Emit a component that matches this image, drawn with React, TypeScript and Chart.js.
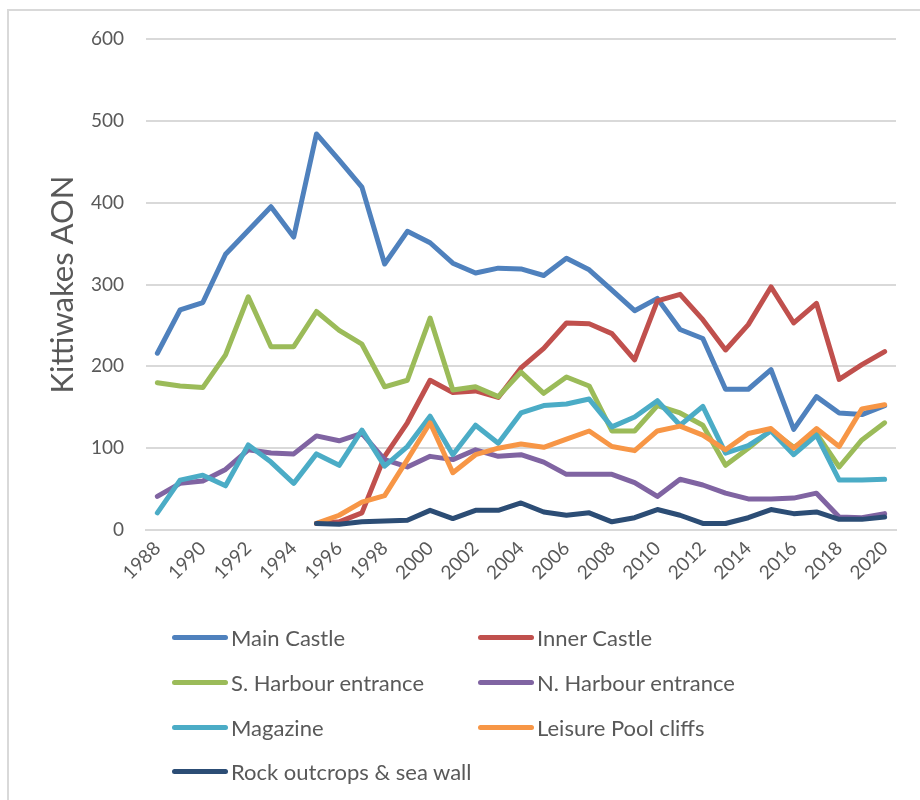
import React, { useEffect, useRef } from "react";
import { Chart, registerables } from "chart.js";

Chart.register(...registerables);

// Survey years
const years = [
  "1988", "1989", "1990", "1991", "1992", "1993", "1994", "1995", "1996", "1997", "1998",
  "1999", "2000", "2001", "2002", "2003", "2004", "2005", "2006", "2007", "2008", "2009",
  "2010", "2011", "2012", "2013", "2014", "2015", "2016", "2017", "2018", "2019", "2020",
];

// Apparently occupied nests per colony site
const mainCastle = [
  216, 269, 278, 337, 366, 395, 358, 484, 452, 419, 325, 365, 351, 326, 314, 320, 319,
  311, 332, 318, 293, 268, 283, 245, 234, 172, 172, 196, 123, 163, 143, 141, 152,
];
const innerCastle = [
  null, null, null, null, null, null, null, 8, 10, 21, 90, 131, 183, 168, 170, 162, 198,
  222, 253, 252, 240, 208, 280, 288, 257, 220, 251, 297, 253, 277, 184, 202, 218,
];
const sHarbour = [
  180, 176, 174, 214, 285, 224, 224, 267, 244, 227, 175, 183, 259, 171, 175, 163, 193,
  167, 187, 176, 121, 121, 152, 143, 128, 79, 100, 122, 101, 118, 77, 110, 131,
];
const nHarbour = [
  41, 57, 60, 74, 98, 94, 93, 115, 109, 118, 86, 77, 90, 86, 98, 90, 92,
  83, 68, 68, 68, 58, 41, 62, 55, 45, 38, 38, 39, 45, 16, 15, 20,
];
const magazine = [
  21, 61, 67, 54, 104, 83, 57, 93, 79, 122, 78, 102, 139, 92, 128, 106, 143,
  152, 154, 160, 126, 138, 158, 128, 151, 94, 103, 121, 92, 116, 61, 61, 62,
];
const leisurePool = [
  null, null, null, null, null, null, null, 8, 18, 34, 42, 86, 131, 70, 92, 100, 105,
  101, 111, 121, 102, 97, 121, 127, 116, 98, 118, 124, 100, 124, 102, 148, 153,
];
const rockOutcrops = [
  null, null, null, null, null, null, null, 8, 7, 10, 11, 12, 24, 14, 24, 24, 33,
  22, 18, 21, 10, 15, 25, 18, 8, 8, 15, 25, 20, 22, 13, 13, 16,
];

const seriesNames = [
  "Main Castle",
  "Inner Castle",
  "S. Harbour entrance",
  "N. Harbour entrance",
  "Magazine",
  "Leisure Pool cliffs",
  "Rock outcrops & sea wall",
];
const seriesValues = [mainCastle, innerCastle, sHarbour, nHarbour, magazine, leisurePool, rockOutcrops];
const seriesColors = ["#4F81BD", "#C0504D", "#9BBB59", "#8064A2", "#4BACC6", "#F79646", "#2C4D75"];

const yTicks = [0, 100, 200, 300, 400, 500, 600];

const FONT = "Lato, 'Liberation Sans', sans-serif";
const TEXT = "#595959";
const GRID = "#d9d9d9";

// legend grid: two columns, rows top to bottom
const legendCols = [172, 478];
const legendRows = [637, 682, 727, 771];

export default function App() {
  const canvasRef = useRef<HTMLCanvasElement>(null);

  useEffect(() => {
    const canvas = canvasRef.current;
    if (!canvas) return;
    const chart = new Chart(canvas, {
      type: "line",
      data: {
        labels: years,
        datasets: seriesNames.map((name, i) => ({
          label: name,
          data: seriesValues[i],
          borderColor: seriesColors[i],
          backgroundColor: seriesColors[i],
          borderWidth: 5,
          borderCapStyle: "round",
          borderJoinStyle: "round",
          pointRadius: 0,
          pointHoverRadius: 0,
          tension: 0,
          spanGaps: false,
          fill: false,
          // later series sit on top
          order: seriesNames.length - i,
        })),
      },
      options: {
        responsive: false,
        animation: false,
        events: [],
        layout: { padding: { left: 0, top: 39, right: 24, bottom: 0 } },
        plugins: {
          legend: { display: false },
          tooltip: { enabled: false },
        },
        scales: {
          x: {
            offset: true,
            grid: { display: false, drawTicks: false },
            border: { display: true, color: GRID, width: 2 },
            ticks: {
              autoSkip: false,
              minRotation: 45,
              maxRotation: 45,
              padding: 7,
              color: TEXT,
              font: { family: FONT, size: 19 },
              callback: (_v: any, i: number) => (i % 2 === 0 ? years[i] : ""),
            },
            afterFit: (s: any) => {
              s.height = 270;
            },
          },
          y: {
            min: yTicks[0],
            max: yTicks[yTicks.length - 1],
            afterBuildTicks: (s: any) => {
              s.ticks = yTicks.map((v) => ({ value: v }));
            },
            grid: { color: GRID, lineWidth: 2, drawTicks: false },
            border: { display: false },
            ticks: {
              padding: 22,
              color: TEXT,
              font: { family: FONT, size: 19 },
            },
            title: {
              display: true,
              text: "Kittiwakes AON",
              color: TEXT,
              font: { family: FONT, size: 31 },
              padding: { top: 44, bottom: 0 },
            },
            afterFit: (s: any) => {
              s.width = 146;
            },
          },
        },
      },
    });
    return () => chart.destroy();
  }, []);

  return (
    <div
      style={{
        position: "absolute",
        left: 0,
        top: 0,
        width: 920,
        height: 800,
        overflow: "hidden",
        background: "#fff",
        fontFamily: FONT,
      }}
    >
      <div
        style={{
          position: "absolute",
          left: 7,
          top: 9,
          width: 1000,
          height: 1000,
          border: `2px solid ${GRID}`,
          boxSizing: "border-box",
        }}
      />
      <canvas ref={canvasRef} width={920} height={800} style={{ position: "absolute", left: 0, top: 0 }} />
      {seriesNames.map((name, i) => (
        <div
          key={name}
          style={{
            position: "absolute",
            left: legendCols[i % 2],
            top: legendRows[Math.floor(i / 2)] - 15,
            height: 30,
            display: "flex",
            alignItems: "center",
            whiteSpace: "nowrap",
            color: TEXT,
            fontSize: 22,
          }}
        >
          <span
            style={{
              display: "inline-block",
              width: 56,
              height: 5,
              borderRadius: 3,
              background: seriesColors[i],
              marginRight: 3,
            }}
          />
          <span>{name}</span>
        </div>
      ))}
    </div>
  );
}
